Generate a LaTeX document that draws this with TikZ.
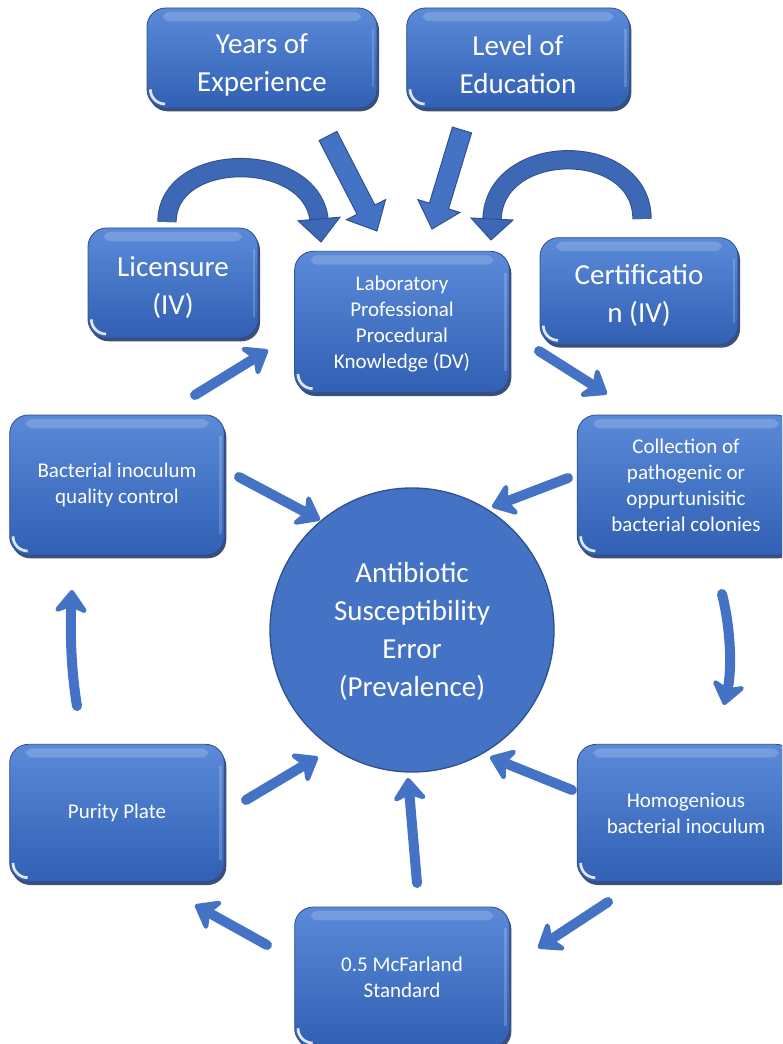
\documentclass[tikz,border=0pt]{standalone}
\usepackage{fontspec}
\setmainfont{Carlito}
\usetikzlibrary{calc,arrows.meta,shadows,shapes.geometric}
\definecolor{boxtop}{HTML}{5A8AD8}
\definecolor{boxbot}{HTML}{3160B4}
\definecolor{boxedge}{HTML}{2B4F8F}
\definecolor{shadowc}{HTML}{1A3060}
\definecolor{flowc}{HTML}{4472C4}
\definecolor{circedge}{HTML}{2F528F}
\definecolor{curvefill}{HTML}{3D68B5}
\newcommand\tall[1]{\rule{0pt}{#1}}
\tikzset{
  box/.style={rounded corners=14pt, top color=boxtop, bottom color=boxbot,
    draw=boxedge, line width=0.6pt, text=white, align=center, inner sep=4pt,
    drop shadow={shadow xshift=1.5pt, shadow yshift=-2.5pt, fill=shadowc, opacity=0.85},
    path picture={
      \fill[white,opacity=0.18,rounded corners=5pt]
        ([xshift=12pt,yshift=-3pt]path picture bounding box.north west) rectangle
        ([xshift=-12pt,yshift=-10pt]path picture bounding box.north east);
      \draw[white,opacity=0.18,line width=2pt]
        ([xshift=-3pt,yshift=-16pt]path picture bounding box.north east) --
        ([xshift=-3pt,yshift=16pt]path picture bounding box.south east);
      \draw[white,opacity=0.85,line width=2pt]
        ([xshift=2.5pt,yshift=14pt]path picture bounding box.south west)
        arc[start angle=180,end angle=270,radius=11pt];
    }},
  big/.style={font=\fontsize{21.75}{28.5}\selectfont},
  small/.style={font=\fontsize{15.75}{19.5}\selectfont},
  flow/.style={draw=flowc, line width=7.5pt, line cap=round,
    -{Stealth[length=20pt,width=30pt,inset=6pt,round]}},
  blockarrow/.style={fill=flowc, draw=circedge, line width=0.75pt, line join=miter},
  curveshaft/.style={draw=circedge, line width=0.75pt, double=curvefill, double distance=13pt},
  curvehead/.style={fill=curvefill, draw=circedge, line width=0.75pt, line join=miter},
}
\newcommand\blockarr[2]{%
  \coordinate (bh) at ($(#2)!18pt!(#1)$);
  \draw[blockarrow] ($(#1)!7.5pt!90:(#2)$) -- ($(bh)!7.5pt!90:(#2)$)
    -- ($(bh)!16.5pt!90:(#2)$) -- (#2) -- ($(bh)!16.5pt!-90:(#2)$)
    -- ($(bh)!7.5pt!-90:(#2)$) -- ($(#1)!7.5pt!-90:(#2)$) -- cycle;}
\newcommand\blockhead[2]{%
  \draw[curvehead] ($(#1)!15.75pt!90:(#2)$) -- (#2) -- ($(#1)!15.75pt!-90:(#2)$) -- cycle;}
\begin{document}
\begin{tikzpicture}[x=0.75pt,y=-0.75pt]
\useasboundingbox (0,0) rectangle (782,1044);
\clip (0,0) rectangle (782,1044);

% nodes
\node[box,big,minimum width=172.5pt,minimum height=75pt] (yoe) at (262,58) {\tall{25pt}Years of\\Experience};
\node[box,big,minimum width=167pt,minimum height=75pt] (loe) at (518,58) {\tall{25pt}Level of\\Education};
\node[box,big,minimum width=127.5pt,minimum height=82.5pt] (lic) at (173,283) {\tall{21.5pt}Licensure\\(IV)};
\node[box,small,minimum width=161pt,minimum height=106pt] (lab) at (402,322) {\tall{14pt}Laboratory\\Professional\\Procedural\\Knowledge (DV)};
\node[box,big,minimum width=148.5pt,minimum height=80pt] (cert) at (639,291) {\tall{22pt}Certificatio\\n (IV)};
\node[box,small,minimum width=161pt,minimum height=105pt] (bqc) at (117,485) {Bacterial inoculum\\quality control};
\node[box,small,minimum width=163pt,minimum height=105pt] (col) at (686,485) {Collection of\\pathogenic or\\oppurtunisitic\\bacterial colonies};
\node[box,small,minimum width=161pt,minimum height=103pt] (pp) at (117,813) {Purity Plate};
\node[box,small,minimum width=163pt,minimum height=103pt] (hom) at (686,813) {Homogenious\\bacterial inoculum};
\node[box,small,minimum width=161pt,minimum height=105pt] (mcf) at (402,977) {0.5 McFarland\\Standard};
\node[circle,fill=flowc,draw=circedge,line width=1pt,minimum size=213pt,
  text=white,big,align=center] (err) at (412,630) {\tall{17pt}Antibiotic\\Susceptibility\\Error\\(Prevalence)};

% straight block arrows
\coordinate (yoeS) at (328,136);
\coordinate (yoeT) at (377,231);
\blockarr{yoeS}{yoeT}
\coordinate (loeS) at (462,130);
\coordinate (loeT) at (432,229);
\blockarr{loeS}{loeT}

% curved block arrows
\coordinate (licS) at (167,222);
\coordinate (licH) at (319,219);
\coordinate (licT) at (321,242);
\draw[curveshaft] (licS) .. controls (167,150) and (310,150) .. (licH);
\blockhead{licH}{licT}
\coordinate (certS) at (642,219);
\coordinate (certH) at (492,219);
\coordinate (certT) at (491,240);
\draw[curveshaft] (certS) .. controls (642,140) and (495,140) .. (certH);
\blockhead{certH}{certT}

% flow arrows
\coordinate (f1s) at (195,395); \coordinate (f1e) at (268,350);
\draw[flow] (f1s) -- (f1e);
\coordinate (f2s) at (539,351); \coordinate (f2e) at (607,394);
\draw[flow] (f2s) -- (f2e);
\coordinate (f3s) at (568,478); \coordinate (f3e) at (492,507);
\draw[flow] (f3s) -- (f3e);
\coordinate (f4s) at (239,477); \coordinate (f4e) at (320,520);
\draw[flow] (f4s) -- (f4e);
\coordinate (f5s) at (722,594); \coordinate (f5e) at (724,705);
\draw[flow] (f5s) .. controls (731,630) and (732,670) .. (f5e);
\coordinate (f6s) at (572,790); \coordinate (f6e) at (490,757);
\draw[flow] (f6s) -- (f6e);
\coordinate (f7s) at (608,902); \coordinate (f7e) at (538,948);
\draw[flow] (f7s) -- (f7e);
\coordinate (f8s) at (417,883); \coordinate (f8e) at (408,778);
\draw[flow] (f8s) -- (f8e);
\coordinate (f9s) at (267,945); \coordinate (f9e) at (195,905);
\draw[flow] (f9s) -- (f9e);
\coordinate (f10s) at (246,800); \coordinate (f10e) at (318,757);
\draw[flow] (f10s) -- (f10e);
\coordinate (f11s) at (77,706); \coordinate (f11e) at (72,590);
\draw[flow] (f11s) .. controls (71,670) and (70,630) .. (f11e);
\end{tikzpicture}
\end{document}
